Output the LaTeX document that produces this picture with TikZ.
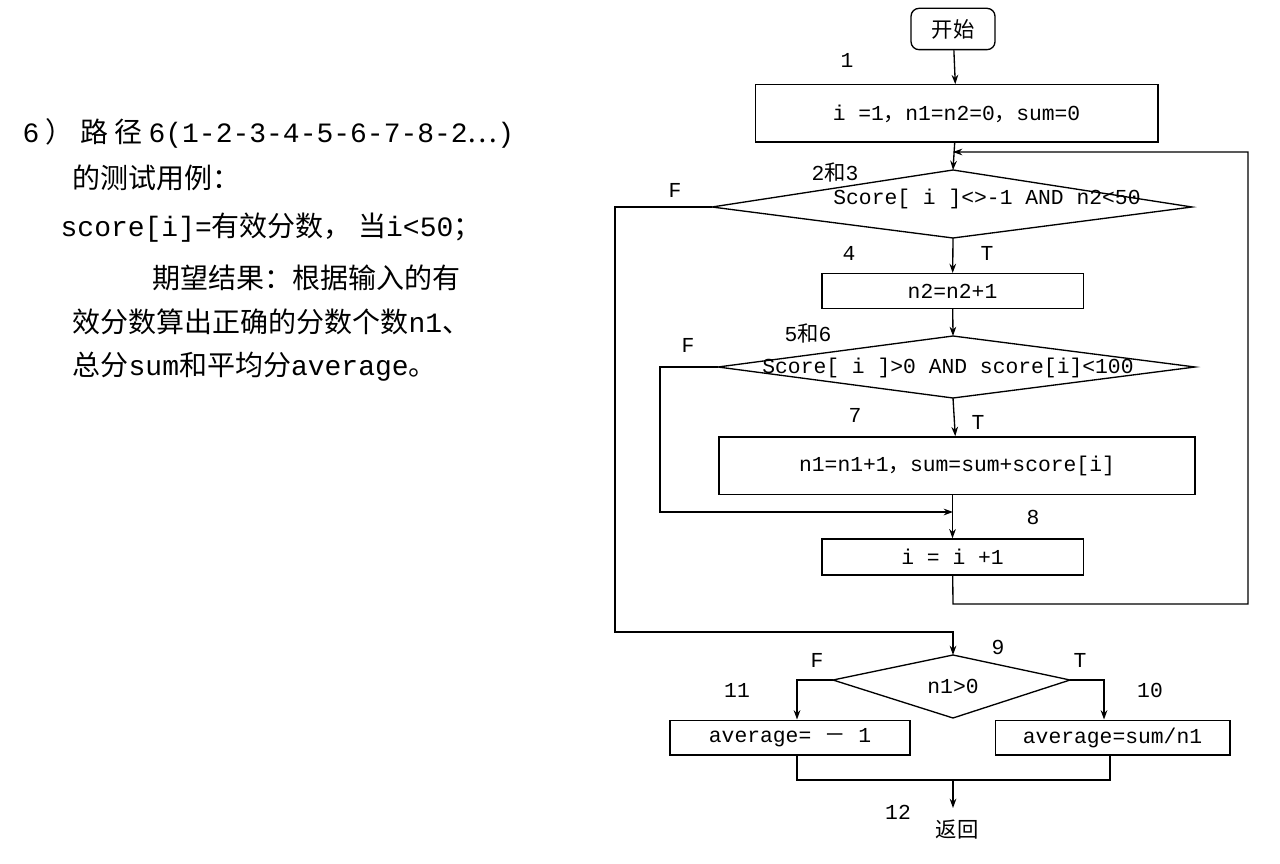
\documentclass[tikz,border=0pt]{standalone}
\usepackage{fontspec}
\setmainfont{Liberation Mono}
\newfontfamily\cjk{Noto Sans CJK SC}
\newcommand{\zh}[1]{{\cjk #1}}
\usetikzlibrary{shapes.geometric,arrows.meta}
\begin{document}
\begin{tikzpicture}[x=0.75pt,y=-0.75pt,
  line width=1pt,
  box/.style={draw,inner sep=0pt},
  lab/.style={font=\fontsize{16}{18}\selectfont},
  arr/.style={-{Stealth[length=7pt,width=5pt]}},
  ln/.style={draw}]
\useasboundingbox (0,0) rectangle (1280,863);
\fill[white] (0,0) rectangle (1280,863);
% left text
\begin{scope}[every node/.style={anchor=west,inner sep=0pt,font=\fontsize{21}{24}\selectfont}]
\node (t1) at (22,133) {6\zh{ ） 路 径 }6(1-2-3-4-5-6-7-8-2\zh{…})};
\node (t2) at (72,178) {\zh{的测试用例：}};
\node (t3) at (60,228) {score[i]=\zh{有效分数， 当}i<50\zh{；}};
\node (t4) at (152,278) {\zh{期望结果：根据输入的有}};
\node (t5) at (72,322) {\zh{效分数算出正确的分数个数}n1\zh{、}};
\node (t6) at (72,367) {\zh{总分}sum\zh{和平均分}average\zh{。}};
\end{scope}
% shapes
\node[box,rounded corners=6pt,minimum width=63pt,minimum height=31pt,lab] (start) at (953,29) {\zh{开始}};
\node[box,minimum width=302pt,minimum height=43pt,lab] (b1) at (956.5,113.5) {i =1\zh{，}n1=n2=0\zh{，}sum=0};
\draw (712,207) -- (953,170) -- (1192,207) -- (953,238) -- cycle;
\coordinate (d1l) at (712,207); \coordinate (d1t) at (953,170); \coordinate (d1b) at (953,238);
\node[lab] (d1) at (987,199) {Score[ i ]<>-1 AND n2<50};
\node[box,minimum width=196pt,minimum height=26pt,lab] (b2) at (952.5,291) {n2=n2+1};
\draw (718,367) -- (953,336) -- (1195,367) -- (953,398) -- cycle;
\coordinate (d2l) at (718,367); \coordinate (d2t) at (953,336); \coordinate (d2b) at (953,398);
\node[lab] (d2) at (948,368) {Score[ i ]>0 AND score[i]<100};
\node[box,minimum width=357pt,minimum height=43pt,lab] (b3) at (957,465.5) {n1=n1+1\zh{，}sum=sum+score[i]};
\node[box,minimum width=196pt,minimum height=27pt,lab] (b4) at (952.5,557) {i = i +1};
\draw (833,680) -- (953,655) -- (1070,680) -- (953,718) -- cycle;
\coordinate (d3l) at (833,680); \coordinate (d3r) at (1070,680); \coordinate (d3t) at (953,655);
\node[lab] (d3) at (953,686) {n1>0};
\node[box,minimum width=180pt,minimum height=26pt,lab] (b5) at (790,737.5) {average= \zh{－} 1};
\node[box,minimum width=176pt,minimum height=26pt,lab] (b6) at (1112.5,737.5) {average=sum/n1};
\node[lab] (ret) at (957,830) {\zh{返回}};
% labels
\begin{scope}[every node/.style={lab}]
\node (l1) at (847,60) {1};
\node (l23) at (835,172) {2\zh{和}3};
\node (lF1) at (675,190) {F};
\node (l4) at (849,253) {4};
\node (lT1) at (987,253) {T};
\node (l56) at (808,333) {5\zh{和}6};
\node (lF2) at (688,345) {F};
\node (l7) at (855,415) {7};
\node (lT2) at (978,422) {T};
\node (l8) at (1033,517) {8};
\node (l9) at (998,647) {9};
\node (lF3) at (817,660) {F};
\node (lT3) at (1080,660) {T};
\node (l11) at (737,690) {11};
\node (l10) at (1150,690) {10};
\node (l12) at (898,812) {12};
\end{scope}
% connectors
\draw[arr] (start) -- (b1);
\draw[arr] (b1) -- (d1t);
\draw[arr] (d1b) -- (b2);
\draw[arr] (b2) -- (d2t);
\draw[arr] (d2b) -- (b3);
\draw[arr] (b3.south -| b4) -- (b4);
\coordinate (m8) at (953,512);
\draw[arr] (d2l) -- (660,367) -- (660,512) -- (m8);
\draw[arr] (b4) -- (953,604) -- (1248,604) -- (1248,152) -- (953,152);
\draw[arr] (d1l) -- (615,207) -- (615,632) -- (953,632) -- (d3t);
\draw[arr] (d3l) -- (797,680) -- (b5.north -| 797,0);
\draw[arr] (d3r) -- (1104,680) -- (b6.north -| 1104,0);
\draw (b5.south -| 797,0) -- (797,780) -- (1110,780) -- (b6.south -| 1110,0);
\draw[arr] (953,780) -- (953,808);
\end{tikzpicture}
\end{document}
